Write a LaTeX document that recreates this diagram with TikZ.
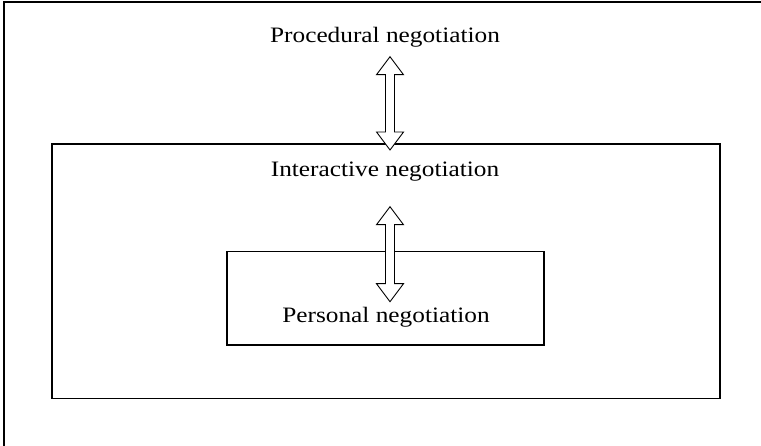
\documentclass[tikz,border=0pt]{standalone}
\usepackage{fontspec}
\setmainfont{Liberation Serif}[FakeStretch=1.15]
\begin{document}
\begin{tikzpicture}[x=1pt,y=-1pt,
  frameline/.style={line width=2pt},
  boxnode/.style={draw,line width=1.6pt,rectangle,inner sep=0pt},
  label/.style={font=\fontsize{22}{26}\selectfont,anchor=base,inner sep=0pt},
  hollowarrow/.style={draw,line width=0.9pt,fill=white,line join=miter}]
\useasboundingbox (0,0) rectangle (761,446);
% outer frame (left and top)
\coordinate (fbl) at (4,446);
\coordinate (ftl) at (4,2);
\coordinate (ftr) at (762,2);
\draw[frameline] (fbl) -- (ftl) -- (ftr);
% boxes
\node[boxnode,minimum width=668.3,minimum height=254.7] (interbox) at (385.85,271.35) {};
\node[boxnode,minimum width=317.3,minimum height=93.3] (persbox) at (385.35,298.35) {};
% labels
\node[label] (proc) at (385,43) {Procedural negotiation};
\node[label] (inter) at (385,177) {Interactive negotiation};
\node[label] (pers) at (386,323) {Personal negotiation};
% double hollow arrows
\def\darrow#1#2#3{%
  \draw[hollowarrow] (#1,#2) -- ++(13.5,18) -- ++(-9,0) -- (#1+4.5,#3-18)
    -- ++(9,0) -- (#1,#3) -- ++(-13.5,-18) -- ++(9,0) -- (#1-4.5,#2+18)
    -- ++(-9,0) -- cycle;}
\darrow{390}{56.7}{150}
\darrow{390}{206.7}{301.7}
\end{tikzpicture}
\end{document}
